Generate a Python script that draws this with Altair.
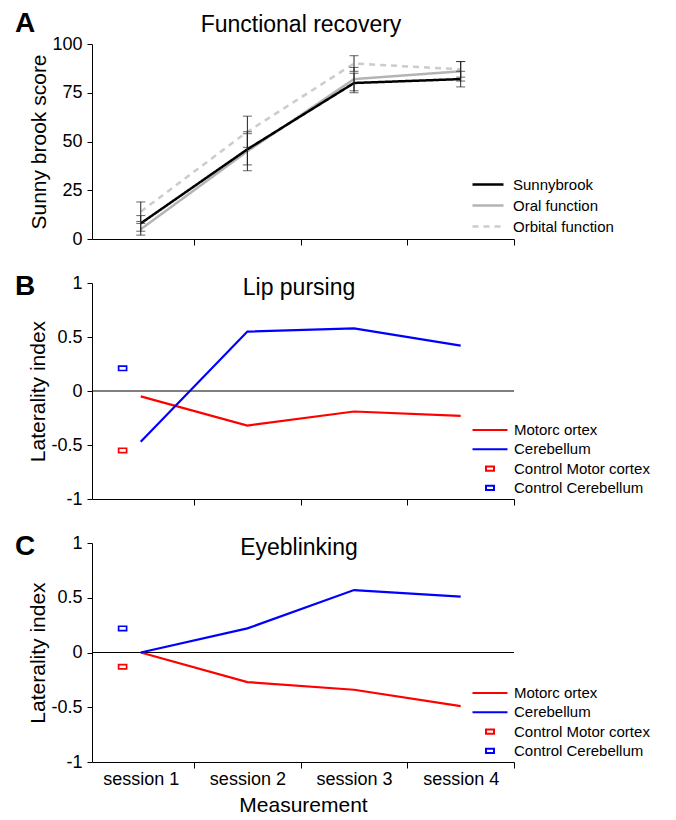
import altair as alt
import pandas as pd

FONT = "Liberation Sans"

# ---------------- data ----------------
sessions = [1, 2, 3, 4]
panel_letters = ["A", "B", "C"]
panel_titles = ["Functional recovery", "Lip pursing", "Eyeblinking"]

recovery_series = ["Sunnybrook", "Oral function", "Orbital function"]
sunnybrook_mean = [8, 46, 80, 82]
sunnybrook_err = [4, 8, 5, 4]
oral_mean = [5, 45, 82, 86]
oral_err = [3, 10, 6, 5]
orbital_mean = [14, 55, 90, 87]
orbital_err = [5, 8, 4, 4]

line_series = ["Motorc ortex", "Cerebellum"]
control_series = ["Control Motor cortex", "Control Cerebellum"]

lip_motor = [-0.05, -0.32, -0.19, -0.23]
lip_cerebellum = [-0.47, 0.55, 0.58, 0.42]
lip_controls = [-0.55, 0.21]

eye_motor = [0.0, -0.27, -0.34, -0.49]
eye_cerebellum = [0.0, 0.22, 0.57, 0.51]
eye_controls = [-0.13, 0.22]

control_position = 0.83

# ---------------- tables ----------------
rows = []
for name, means, errs in [("Orbital function", orbital_mean, orbital_err),
                          ("Oral function", oral_mean, oral_err),
                          ("Sunnybrook", sunnybrook_mean, sunnybrook_err)]:
    for s, m, e in zip(sessions, means, errs):
        rows.append({"series": name, "session": s, "mean": m, "lo": m - e, "hi": m + e})
df_a = pd.DataFrame(rows)


def line_df(motor, cereb):
    r = []
    for name, vals in [("Motorc ortex", motor), ("Cerebellum", cereb)]:
        for s, v in zip(sessions, vals):
            r.append({"series": name, "session": s, "value": v})
    return pd.DataFrame(r)


def ctrl_df(vals):
    return pd.DataFrame({"series": control_series, "x": [control_position] * 2, "value": vals})


# ---------------- shared pieces ----------------
x_scale = alt.Scale(domain=[0.543, 4.5], nice=False, zero=False)
axis_x_plain = alt.Axis(values=[1.5, 2.5, 3.5, 4.5], labels=False, title=None,
                        grid=False, tickSize=6)
axis_x_bottom = alt.Axis(
    values=[1, 1.5, 2, 2.5, 3, 3.5, 4, 4.5],
    labelExpr="datum.value % 1 == 0 ? 'session ' + datum.value : ''",
    tickOpacity={"condition": {"test": "datum.value % 1 == 0", "value": 0}, "value": 1},
    title="Measurement", grid=False, tickSize=6, labelOverlap=False,
    labelFlush=False, labelPadding=2, titlePadding=6)

axis_y_a = alt.Axis(values=[0, 25, 50, 75, 100], title="Sunny brook score",
                    grid=False, tickSize=5, labelPadding=5, titlePadding=2)
axis_y_li = alt.Axis(values=[-1, -0.5, 0, 0.5, 1], labelExpr="'' + datum.value",
                     title="Laterality index", grid=False, tickSize=5,
                     labelPadding=5, titlePadding=2)
y_scale_li = alt.Scale(domain=[-1, 1], nice=False)

LINE_A = "M-1.722,0H1.722"
LINE_B = "M-1.944,0H1.944"
RECT = "M-0.444,-0.24H0.444V0.24H-0.444Z"


def letter(ch, ypos):
    return alt.Chart(pd.DataFrame({"t": [ch]})).mark_text(
        font=FONT, fontSize=28, fontWeight="bold", align="center",
        baseline="alphabetic", color="black").encode(
        text="t:N", x=alt.value(-67), y=alt.value(ypos))


def panel_title(txt, xpos, ypos):
    return alt.Chart(pd.DataFrame({"t": [txt]})).mark_text(
        font=FONT, fontSize=23, align="center", baseline="alphabetic",
        color="black").encode(text="t:N", x=alt.value(xpos), y=alt.value(ypos))


# ---------------- panel A ----------------
legend_a = alt.Legend(title=None, orient="none", legendX=385.5, legendY=130,
                      symbolType=LINE_A, symbolSize=324, symbolStrokeWidth=2.5,
                      labelOffset=14.5, rowPadding=2, padding=0)
base_a = alt.Chart(df_a)
y_a = alt.Scale(domain=[0, 100], nice=False)
lines_a = base_a.mark_line(strokeWidth=2.5).encode(
    x=alt.X("session:Q", scale=x_scale, axis=axis_x_plain),
    y=alt.Y("mean:Q", scale=y_a, axis=axis_y_a),
    color=alt.Color("series:N", scale=alt.Scale(domain=recovery_series,
                    range=["#000000", "#b4b4b4", "#cccccc"]), legend=legend_a),
    strokeDash=alt.StrokeDash("series:N", scale=alt.Scale(domain=recovery_series,
                              range=[[1, 0], [1, 0], [6, 5]]), legend=legend_a),
)
err_rule = base_a.mark_rule(color="#222222", strokeWidth=1).encode(
    x=alt.X("session:Q", scale=x_scale, axis=axis_x_plain),
    y=alt.Y("lo:Q", scale=y_a, axis=axis_y_a),
    y2="hi:Q")
cap_lo = base_a.mark_tick(orient="horizontal", size=9, thickness=1, color="#222222").encode(
    x=alt.X("session:Q", scale=x_scale, axis=axis_x_plain),
    y=alt.Y("lo:Q", scale=y_a, axis=axis_y_a))
cap_hi = base_a.mark_tick(orient="horizontal", size=9, thickness=1, color="#222222").encode(
    x=alt.X("session:Q", scale=x_scale, axis=axis_x_plain),
    y=alt.Y("hi:Q", scale=y_a, axis=axis_y_a))

panel_a = alt.layer(lines_a, err_rule, cap_lo, cap_hi,
                    letter(panel_letters[0], -12),
                    panel_title(panel_titles[0], 209, -12)).properties(width=422, height=195)


# ---------------- panels B and C ----------------
all_series = line_series + control_series


def lat_panel(motor, cereb, controls, letter_ch, title_txt, height, axis_x, leg_y):
    dl = line_df(motor, cereb)
    dc = ctrl_df(controls)
    leg = alt.Legend(title=None, orient="none", legendX=388, legendY=leg_y,
                     symbolSize=324, symbolStrokeWidth=2, symbolFillColor="transparent",
                     symbolOpacity=1, labelOffset=14, rowPadding=1.3, padding=0)
    cscale = alt.Scale(domain=all_series, range=["#ff0000", "#0000ff", "#ff0000", "#0000ff"])
    sscale = alt.Scale(domain=all_series, range=[LINE_B, LINE_B, RECT, RECT])
    zero = alt.Chart(pd.DataFrame({"y": [0]})).mark_rule(color="black", strokeWidth=1.2).encode(
        y=alt.Y("y:Q", scale=y_scale_li, axis=axis_y_li))
    lines = alt.Chart(dl).mark_line(strokeWidth=2.2).encode(
        x=alt.X("session:Q", scale=x_scale, axis=axis_x),
        y=alt.Y("value:Q", scale=y_scale_li, axis=axis_y_li),
        color=alt.Color("series:N", scale=cscale, legend=leg),
    )
    ctrl = alt.Chart(dc).mark_point(size=324, filled=False, strokeWidth=1.7,
                                    opacity=1).encode(
        x=alt.X("x:Q", scale=x_scale, axis=axis_x),
        y=alt.Y("value:Q", scale=y_scale_li, axis=axis_y_li),
        color=alt.Color("series:N", scale=cscale, legend=leg),
        shape=alt.Shape("series:N", scale=sscale, legend=leg),
    )
    return alt.layer(zero, lines, ctrl, letter(letter_ch, 12),
                     panel_title(title_txt, 207, 12)).properties(width=422, height=height)


panel_b = lat_panel(lip_motor, lip_cerebellum, lip_controls, panel_letters[1],
                    panel_titles[1], 216, axis_x_plain, 137)
panel_c = lat_panel(eye_motor, eye_cerebellum, eye_controls, panel_letters[2],
                    panel_titles[2], 219, axis_x_bottom, 140)

chart = alt.vconcat(panel_a, panel_b, panel_c, spacing=25).resolve_scale(
    color="independent", shape="independent", strokeDash="independent"
).resolve_legend(
    color="independent", shape="independent", strokeDash="independent"
).properties(
    padding={"left": 6, "top": 2, "right": 5, "bottom": 0}
).configure_axis(
    labelFont=FONT, titleFont=FONT, labelFontSize=18, titleFontSize=21,
    titleFontWeight="normal", labelColor="black", titleColor="black",
    domainColor="black", tickColor="black", domainWidth=1, tickWidth=1, grid=False
).configure_view(stroke=None).configure_legend(
    labelFont=FONT, labelFontSize=15, labelColor="black"
).configure_title(font=FONT, fontSize=23, fontWeight="normal", color="black")

chart.save("out.html", embed_options={"renderer": "svg", "actions": False})
